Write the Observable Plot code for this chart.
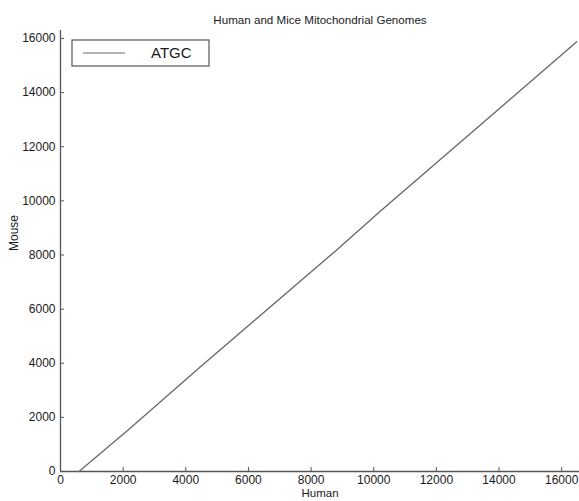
<!DOCTYPE html>
<html><head><meta charset="utf-8">
<script src="https://cdn.jsdelivr.net/npm/d3@7"></script>
<script src="https://cdn.jsdelivr.net/npm/@observablehq/plot@0.6"></script>
<style>body{margin:0;background:#fff}</style>
</head><body><div id="chart"></div>
<script>
const human = [590, 2150, 4450, 8800, 10180, 14320, 16480];
const mouse = [0, 1520, 3850, 8170, 9590, 13720, 15880];
const xTicks = [0, 2000, 4000, 6000, 8000, 10000, 12000, 14000, 16000];
const yTicks = [0, 2000, 4000, 6000, 8000, 10000, 12000, 14000, 16000];
const seriesName = "ATGC";
const title = "Human and Mice Mitochondrial Genomes";
const xLabel = "Human";
const yLabel = "Mouse";

const data = human.map((h, i) => ({human: h, mouse: mouse[i]}));
const font = "'Liberation Sans', Arial, Helvetica, sans-serif";

const plot = Plot.plot({
  width: 579, height: 501,
  marginLeft: 60, marginRight: 0, marginTop: 30, marginBottom: 30,
  style: {fontFamily: font, fontSize: "12px", color: "#1a1a1a", background: "#fff"},
  x: {domain: [0, 16569]},
  y: {domain: [0, 16295]},
  marks: [
    Plot.ruleX([0], {stroke: "#555", strokeWidth: 1.3}),
    Plot.ruleY([0], {stroke: "#555", strokeWidth: 1.3}),
    Plot.axisX({ticks: xTicks, tickSize: -4, tickPadding: 8, tickFormat: d => String(d), label: null, stroke: "#555"}),
    Plot.axisY({ticks: yTicks, tickSize: -4, tickPadding: 9, tickFormat: d => String(d), label: null, stroke: "#555"}),
    Plot.line(data, {x: "human", y: "mouse", stroke: "#666", strokeWidth: 1.3}),
    Plot.text([title], {frameAnchor: "top", dy: -15, fontSize: 11.6, fill: "#1a1a1a"}),
    Plot.text([xLabel], {frameAnchor: "bottom", dy: 25.5, fontSize: 11.5, fill: "#1a1a1a"}),
    Plot.text([yLabel], {frameAnchor: "left", dx: -46, rotate: -90, fontSize: 12, fill: "#1a1a1a"})
  ]
});

// legend box (decoration, positioned relative to the plot frame)
const svg = d3.select(plot);
const lg = svg.append("g").attr("transform", "translate(72,40)");
lg.append("rect").attr("width", 137).attr("height", 26)
  .attr("fill", "#fff").attr("stroke", "#555").attr("stroke-width", 1.2);
lg.append("line").attr("x1", 11).attr("x2", 53).attr("y1", 13).attr("y2", 13)
  .attr("stroke", "#666").attr("stroke-width", 1.2);
lg.append("text").attr("x", 79).attr("y", 13).attr("dy", "0.35em")
  .attr("text-anchor", "start")
  .attr("font-family", font).attr("font-size", 15).attr("fill", "#1a1a1a").text(seriesName);

document.getElementById("chart").append(plot);
</script>
</body></html>
